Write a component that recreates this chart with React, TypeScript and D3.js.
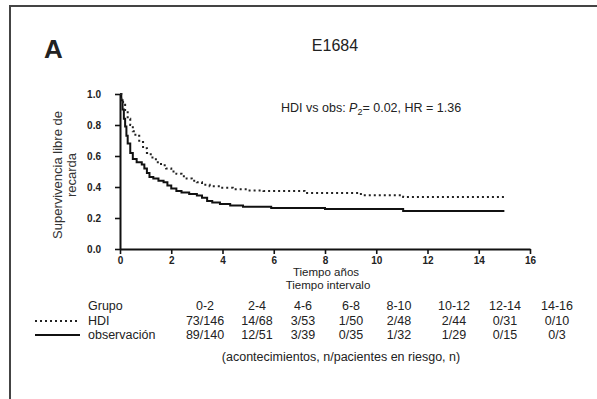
import { useEffect, useRef } from "react";
import * as d3 from "d3";

// curvas de Kaplan-Meier (tiempo en años, supervivencia)
const hdiTimes = [0, 0.05, 0.12, 0.2, 0.3, 0.4, 0.5, 0.6, 0.75, 0.9, 1.05, 1.2, 1.4, 1.6, 1.8, 2.0, 2.2, 2.4, 2.6, 2.8, 3.0, 3.2, 3.5, 3.9, 4.4, 5.0, 5.6, 7.2, 9.4, 11.05, 15.1];
const hdiSurv = [1.0, 0.97, 0.93, 0.89, 0.84, 0.8, 0.76, 0.73, 0.69, 0.65, 0.62, 0.59, 0.56, 0.54, 0.52, 0.5, 0.485, 0.47, 0.455, 0.44, 0.43, 0.415, 0.405, 0.395, 0.385, 0.378, 0.375, 0.362, 0.347, 0.335, 0.335];

const obsTimes = [0, 0.05, 0.1, 0.15, 0.2, 0.25, 0.3, 0.4, 0.5, 0.65, 0.85, 0.95, 1.05, 1.15, 1.3, 1.5, 1.7, 1.85, 2.0, 2.2, 2.4, 2.7, 3.0, 3.2, 3.4, 3.6, 3.9, 4.3, 4.8, 5.9, 8.0, 11.05, 15.0];
const obsSurv = [1.0, 0.96, 0.9, 0.84, 0.79, 0.73, 0.68, 0.62, 0.58, 0.56, 0.545, 0.52, 0.49, 0.465, 0.455, 0.44, 0.43, 0.41, 0.39, 0.375, 0.365, 0.355, 0.345, 0.33, 0.31, 0.3, 0.29, 0.28, 0.272, 0.265, 0.258, 0.245, 0.245];

const xTicks = [0, 2, 4, 6, 8, 10, 12, 14, 16];
const yTicks = [0, 0.2, 0.4, 0.6, 0.8, 1.0];

// tabla de pacientes en riesgo
const intervals = ["0-2", "2-4", "4-6", "6-8", "8-10", "10-12", "12-14", "14-16"];
const intervalX = [205, 257, 303, 351, 399, 454, 505, 557];
const hdiCounts = ["73/146", "14/68", "3/53", "1/50", "2/48", "2/44", "0/31", "0/10"];
const obsCounts = ["89/140", "12/51", "3/39", "0/35", "1/32", "1/29", "0/15", "0/3"];

const FONT = "'Liberation Sans', Arial, sans-serif";

export default function App() {
  const svgRef = useRef<SVGSVGElement>(null);

  useEffect(() => {
    if (!svgRef.current) return;
    const svg = d3.select(svgRef.current);
    svg.selectAll("*").remove();

    const x = d3.scaleLinear().domain([0, 16]).range([120, 530]);
    const y = d3.scaleLinear().domain([0, 1]).range([249, 94]);

    // marco
    svg
      .append("rect")
      .attr("x", 10)
      .attr("y", 6)
      .attr("width", 620)
      .attr("height", 420)
      .attr("fill", "none")
      .attr("stroke", "#444")
      .attr("stroke-width", 2);

    svg
      .append("text")
      .attr("x", 44)
      .attr("y", 58)
      .attr("font-family", FONT)
      .attr("font-weight", "bold")
      .attr("font-size", 26)
      .attr("fill", "#222")
      .text("A");

    svg
      .append("text")
      .attr("x", 335)
      .attr("y", 51)
      .attr("text-anchor", "middle")
      .attr("font-family", FONT)
      .attr("font-size", 16)
      .attr("fill", "#222")
      .text("E1684");

    // ejes
    const gy = svg
      .append("g")
      .attr("transform", `translate(${x(0)},0)`)
      .call(
        d3
          .axisLeft(y)
          .tickValues(yTicks)
          .tickSize(5)
          .tickSizeOuter(0)
          .tickPadding(14)
          .tickFormat((d) => d3.format(".1f")(d as number)),
      );
    const gx = svg
      .append("g")
      .attr("transform", `translate(0,${y(0)})`)
      .call(d3.axisBottom(x).tickValues(xTicks).tickSize(5).tickSizeOuter(0).tickPadding(3));

    [gx, gy].forEach((g) => {
      g.select(".domain").attr("stroke", "#111").attr("stroke-width", 2);
      g.selectAll(".tick line").attr("stroke", "#111").attr("stroke-width", 1.6);
      g.selectAll(".tick text")
        .attr("font-family", FONT)
        .attr("font-weight", "bold")
        .attr("font-size", 10)
        .attr("fill", "#222");
    });

    // título del eje y
    const yl = svg
      .append("text")
      .attr("transform", "translate(62,175) rotate(-90)")
      .attr("text-anchor", "middle")
      .attr("font-family", FONT)
      .attr("font-size", 13)
      .attr("fill", "#333");
    yl.append("tspan").attr("x", 0).attr("y", 0).text("Supervivencia libre de");
    yl.append("tspan").attr("x", 0).attr("y", 14).text("recarda");

    svg
      .append("text")
      .attr("x", 326)
      .attr("y", 276)
      .attr("text-anchor", "middle")
      .attr("font-family", FONT)
      .attr("font-size", 11.5)
      .attr("fill", "#222")
      .text("Tiempo años");
    svg
      .append("text")
      .attr("x", 328)
      .attr("y", 289)
      .attr("text-anchor", "middle")
      .attr("font-family", FONT)
      .attr("font-size", 11.5)
      .attr("fill", "#222")
      .text("Tiempo intervalo");

    // anotación
    const ann = svg
      .append("text")
      .attr("x", 281)
      .attr("y", 112)
      .attr("font-family", FONT)
      .attr("font-size", 12.5)
      .attr("fill", "#222");
    ann.append("tspan").text("HDI vs obs: ");
    ann.append("tspan").attr("font-style", "italic").text("P");
    ann.append("tspan").attr("font-size", 9).attr("dy", 3).text("2");
    ann.append("tspan").attr("dy", -3).text("= 0.02, HR = 1.36");

    // curvas
    const line = d3
      .line<[number, number]>()
      .x((d) => x(d[0]))
      .y((d) => y(d[1]))
      .curve(d3.curveStepAfter);

    const hdiData = hdiTimes.map((t, i) => [t, hdiSurv[i]] as [number, number]);
    const obsData = obsTimes.map((t, i) => [t, obsSurv[i]] as [number, number]);

    svg
      .append("path")
      .attr("d", line(obsData))
      .attr("fill", "none")
      .attr("stroke", "#111")
      .attr("stroke-width", 2);

    svg
      .append("path")
      .attr("d", line(hdiData))
      .attr("fill", "none")
      .attr("stroke", "#222")
      .attr("stroke-width", 2)
      .attr("stroke-dasharray", "2,3");

    // tabla
    const rowY = [310, 325, 339];
    const tbl = svg
      .append("g")
      .attr("font-family", FONT)
      .attr("font-size", 12.5)
      .attr("fill", "#222");

    tbl.append("text").attr("x", 88).attr("y", rowY[0]).text("Grupo");
    tbl.append("text").attr("x", 88).attr("y", rowY[1]).text("HDI");
    tbl.append("text").attr("x", 88).attr("y", rowY[2]).text("observación");

    svg
      .append("line")
      .attr("x1", 35)
      .attr("x2", 80)
      .attr("y1", rowY[1] - 4)
      .attr("y2", rowY[1] - 4)
      .attr("stroke", "#222")
      .attr("stroke-width", 2)
      .attr("stroke-dasharray", "2,3");
    svg
      .append("line")
      .attr("x1", 35)
      .attr("x2", 80)
      .attr("y1", rowY[2] - 4)
      .attr("y2", rowY[2] - 4)
      .attr("stroke", "#111")
      .attr("stroke-width", 2);

    intervals.forEach((iv, i) => {
      tbl.append("text").attr("x", intervalX[i]).attr("y", rowY[0]).attr("text-anchor", "middle").text(iv);
      tbl.append("text").attr("x", intervalX[i]).attr("y", rowY[1]).attr("text-anchor", "middle").text(hdiCounts[i]);
      tbl.append("text").attr("x", intervalX[i]).attr("y", rowY[2]).attr("text-anchor", "middle").text(obsCounts[i]);
    });

    tbl
      .append("text")
      .attr("x", 341)
      .attr("y", 361)
      .attr("text-anchor", "middle")
      .text("(acontecimientos, n/pacientes en riesgo, n)");
  }, []);

  return (
    <svg
      ref={svgRef}
      width={597}
      height={399}
      style={{ position: "absolute", left: 0, top: 0, background: "#fff" }}
    />
  );
}
